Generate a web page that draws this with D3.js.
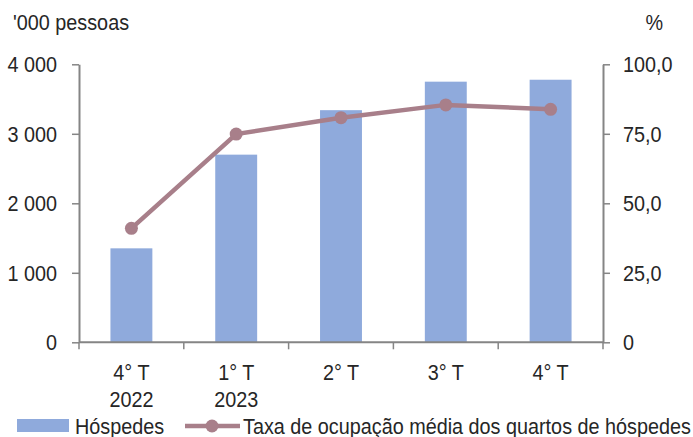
<!DOCTYPE html>
<html><head><meta charset="utf-8">
<script src="https://cdn.jsdelivr.net/npm/d3@7"></script>
<style>
body{margin:0;background:#fff;}
text{font-family:"Liberation Sans",Arial,sans-serif;fill:#262626;}
</style></head>
<body><svg id="c" width="693" height="437"></svg>
<script>
const categories = ["4° T|2022", "1° T|2023", "2° T", "3° T", "4° T"];
const hospedes = [1352, 2700, 3340, 3750, 3778];
const taxa = [41.0, 74.9, 80.8, 85.4, 83.8];
const leftTicks = [0, 1000, 2000, 3000, 4000];
const rightTicks = [0, 25, 50, 75, 100];
const labels = {left:"'000 pessoas", right:"%", s1:"Hóspedes", s2:"Taxa de ocupação média dos quartos de hóspedes"};

const svg = d3.select("#c");
const x0 = 79, x1 = 603, yTop = 64.3, yBot = 342.3;
const FS = 22.5, SX = 0.88;
const axisColor = "#858585";
const barColor = "#8FAADC";
const lineColor = "#A87F8A";

function label(g, xx, yy, str, anchor) {
  return g.append("text").attr("transform", `translate(${xx},${yy}) scale(${SX},1)`)
    .attr("text-anchor", anchor || "start").attr("font-size", FS).text(str);
}

const x = d3.scaleBand().domain(categories).range([x0, x1]).paddingInner(0.6).paddingOuter(0.3);
const xb = d3.scaleBand().domain(categories).range([x0, x1]);
const yL = d3.scaleLinear().domain([0, 4000]).range([yBot, yTop]);
const yR = d3.scaleLinear().domain([0, 100]).range([yBot, yTop]);

const fmtL = d => d === 0 ? "0" : d3.format(",")(d).replace(/,/g, " ");
const fmtR = d => d === 0 ? "0" : d.toFixed(1).replace(".", ",");

// bars
svg.append("g").selectAll("rect").data(hospedes).join("rect")
  .attr("x", (d,i) => x(categories[i])).attr("width", x.bandwidth())
  .attr("y", d => yL(d)).attr("height", d => yBot - yL(d))
  .attr("fill", barColor);

// left / right axes (lines & ticks via d3 axis, labels custom)
const gl = svg.append("g").attr("transform", `translate(${x0},0)`)
  .call(d3.axisLeft(yL).tickValues(leftTicks).tickFormat("").tickSizeInner(7).tickSizeOuter(0));
const gr = svg.append("g").attr("transform", `translate(${x1},0)`)
  .call(d3.axisRight(yR).tickValues(rightTicks).tickFormat("").tickSizeInner(7).tickSizeOuter(0));
[gl, gr].forEach(g => {
  g.select(".domain").attr("stroke", axisColor).attr("stroke-width", 2);
  g.selectAll(".tick line").attr("stroke", axisColor).attr("stroke-width", 1.5);
  g.selectAll(".tick text").remove();
});
const labG = svg.append("g");
leftTicks.forEach(t => label(labG, 57, yL(t) + 8, fmtL(t), "end"));
rightTicks.forEach(t => label(labG, 623, yR(t) + 8, fmtR(t), "start"));

// bottom axis
const gb = svg.append("g").attr("transform", `translate(0,${yBot})`);
gb.append("line").attr("x1", x0).attr("x2", x1).attr("stroke", axisColor).attr("stroke-width", 2);
const bounds = categories.map(c => xb(c)).concat([x1]);
gb.selectAll("line.t").data(bounds).join("line").attr("class","t")
  .attr("x1", d => d).attr("x2", d => d).attr("y1", 0).attr("y2", 7)
  .attr("stroke", axisColor).attr("stroke-width", 1.5);
categories.forEach(c => {
  c.split("|").forEach((p, k) => label(gb, xb(c) + xb.bandwidth()/2, 38 + k*26.7, p, "middle"));
});

// line
const cx = i => xb(categories[i]) + xb.bandwidth()/2;
svg.append("path").datum(taxa)
  .attr("d", d3.line().x((d,i) => cx(i)).y(d => yR(d)))
  .attr("fill", "none").attr("stroke", lineColor).attr("stroke-width", 4.5);
svg.append("g").selectAll("circle").data(taxa).join("circle")
  .attr("cx", (d,i) => cx(i)).attr("cy", d => yR(d)).attr("r", 6.5).attr("fill", lineColor);

// axis titles
label(svg, 13, 30, labels.left, "start");
label(svg, 663, 30, labels.right, "end");

// legend
svg.append("rect").attr("x", 17).attr("y", 419).attr("width", 52).attr("height", 13).attr("fill", barColor);
label(svg, 75, 434, labels.s1, "start");
svg.append("line").attr("x1", 185).attr("x2", 240).attr("y1", 426).attr("y2", 426).attr("stroke", lineColor).attr("stroke-width", 4.5);
svg.append("circle").attr("cx", 212).attr("cy", 426).attr("r", 6.5).attr("fill", lineColor);
label(svg, 243, 434, labels.s2, "start");
</script></body></html>
